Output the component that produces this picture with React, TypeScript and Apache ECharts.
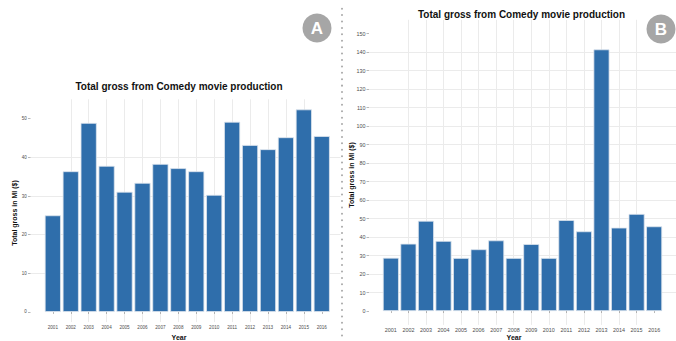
import React, { useEffect, useRef } from "react";
import * as echarts from "echarts";

const years = [2001, 2002, 2003, 2004, 2005, 2006, 2007, 2008, 2009, 2010, 2011, 2012, 2013, 2014, 2015, 2016];
const grossA = [25.0, 36.4, 48.9, 37.8, 31.1, 33.4, 38.3, 37.2, 36.4, 30.3, 49.2, 43.2, 42.1, 45.2, 52.4, 45.5];
const grossB = [28.8, 36.4, 48.8, 37.9, 28.7, 33.4, 38.2, 28.7, 36.2, 28.7, 49.2, 43.1, 141.5, 45.1, 52.5, 45.8];
const yTicksA = [0, 10, 20, 30, 40, 50];
const yTicksB = [0, 10, 20, 30, 40, 50, 60, 70, 80, 90, 100, 110, 120, 130, 140, 150];
const titleText = "Total gross from Comedy movie production";
const yName = "Total gross in Ml ($)";
const xName = "Year";

const FONT = "'Liberation Sans', Arial, Helvetica, sans-serif";
const BAR = "#2f6eab";
const GRID = "#ebebeb";
const TICK = "#4d4d4d";

function makeX(gridIndex: number, min: number, max: number, fs: number) {
  return {
    type: "value",
    gridIndex,
    min,
    max,
    minInterval: 1,
    maxInterval: 1,
    axisLine: { show: false },
    axisTick: { show: true, length: 2, customValues: years, lineStyle: { color: "#888", width: 0.6 } },
    axisLabel: {
      customValues: years,
      fontSize: fs,
      color: TICK,
      margin: 3,
      fontFamily: FONT,
      formatter: (v: number) => String(v),
    },
    splitLine: { show: true, showMinLine: false, showMaxLine: false, lineStyle: { color: GRID, width: 1 } },
  };
}

function makeY(gridIndex: number, min: number, max: number, ticks: number[], fs: number, margin: number) {
  return {
    type: "value",
    gridIndex,
    min,
    max,
    minInterval: 10,
    maxInterval: 10,
    axisLine: { show: false },
    axisTick: { show: true, length: 2.5, customValues: ticks, lineStyle: { color: "#888", width: 0.6 } },
    axisLabel: { customValues: ticks, fontSize: fs, color: TICK, margin, fontFamily: FONT },
    splitLine: { show: true, showMinLine: false, showMaxLine: false, lineStyle: { color: GRID, width: 1 } },
  };
}

export default function App() {
  const ref = useRef<HTMLDivElement>(null);
  useEffect(() => {
    if (!ref.current) return;
    const chart = echarts.init(ref.current, undefined, { renderer: "svg" });
    const option = {
      animation: false,
      textStyle: { fontFamily: FONT },
      grid: [
        { left: 30.5, top: 99.3, width: 310, height: 222.8 },
        { left: 369, top: 19.8, width: 311.3, height: 305.1 },
      ],
      xAxis: [makeX(0, 1999.755, 2017.045, 4.6), makeX(1, 1999.755, 2017.245, 5.4)],
      yAxis: [makeY(0, -2.62, 55.02, yTicksA, 4.5, 3.8), makeY(1, -7.5, 157.5, yTicksB, 5.4, 3.5)],
      series: [
        {
          type: "bar",
          xAxisIndex: 0,
          yAxisIndex: 0,
          barWidth: 16.1,
          data: years.map((y, i) => [y, grossA[i]]),
          itemStyle: { color: BAR, borderColor: "#dde5ee", borderWidth: 0.8 },
        },
        {
          type: "bar",
          xAxisIndex: 1,
          yAxisIndex: 1,
          barWidth: 16.0,
          data: years.map((y, i) => [y, grossB[i]]),
          itemStyle: { color: BAR, borderColor: "#dde5ee", borderWidth: 0.8 },
        },
      ],
      graphic: [
        {
          type: "text",
          x: 179,
          y: 86.7,
          style: { text: titleText, font: `bold 10px ${FONT}`, fill: "#111", align: "center", verticalAlign: "middle" },
        },
        {
          type: "text",
          x: 521.5,
          y: 14.7,
          style: { text: titleText, font: `bold 10px ${FONT}`, fill: "#111", align: "center", verticalAlign: "middle" },
        },
        {
          type: "text",
          x: 14.7,
          y: 213,
          rotation: Math.PI / 2,
          style: { text: yName, font: `bold 7px ${FONT}`, fill: "#111", align: "center", verticalAlign: "middle" },
        },
        {
          type: "text",
          x: 351,
          y: 175,
          rotation: Math.PI / 2,
          style: { text: yName, font: `bold 7px ${FONT}`, fill: "#111", align: "center", verticalAlign: "middle" },
        },
        {
          type: "text",
          x: 179,
          y: 337.5,
          style: { text: xName, font: `bold 7px ${FONT}`, fill: "#111", align: "center", verticalAlign: "middle" },
        },
        {
          type: "text",
          x: 514,
          y: 337,
          style: { text: xName, font: `bold 7px ${FONT}`, fill: "#111", align: "center", verticalAlign: "middle" },
        },
        {
          type: "line",
          shape: { x1: 342, y1: 8.7, x2: 342, y2: 341 },
          style: { stroke: "#a8a8a8", lineWidth: 2, lineCap: "round", lineDash: [0.01, 6.4] },
          z: 100,
        },
        { type: "circle", shape: { cx: 317, cy: 28, r: 14.5 }, style: { fill: "#a6a6a6" }, z: 100 },
        {
          type: "text",
          x: 317,
          y: 28.5,
          style: { text: "A", font: `bold 17px ${FONT}`, fill: "#ffffff", align: "center", verticalAlign: "middle" },
          z: 101,
        },
        { type: "circle", shape: { cx: 661, cy: 29, r: 14.5 }, style: { fill: "#a6a6a6" }, z: 100 },
        {
          type: "text",
          x: 661,
          y: 29.5,
          style: { text: "B", font: `bold 17px ${FONT}`, fill: "#ffffff", align: "center", verticalAlign: "middle" },
          z: 101,
        },
      ],
    };
    chart.setOption(option as any);
    return () => chart.dispose();
  }, []);
  return <div ref={ref} style={{ position: "absolute", left: 0, top: 0, width: 676, height: 341 }} />;
}
